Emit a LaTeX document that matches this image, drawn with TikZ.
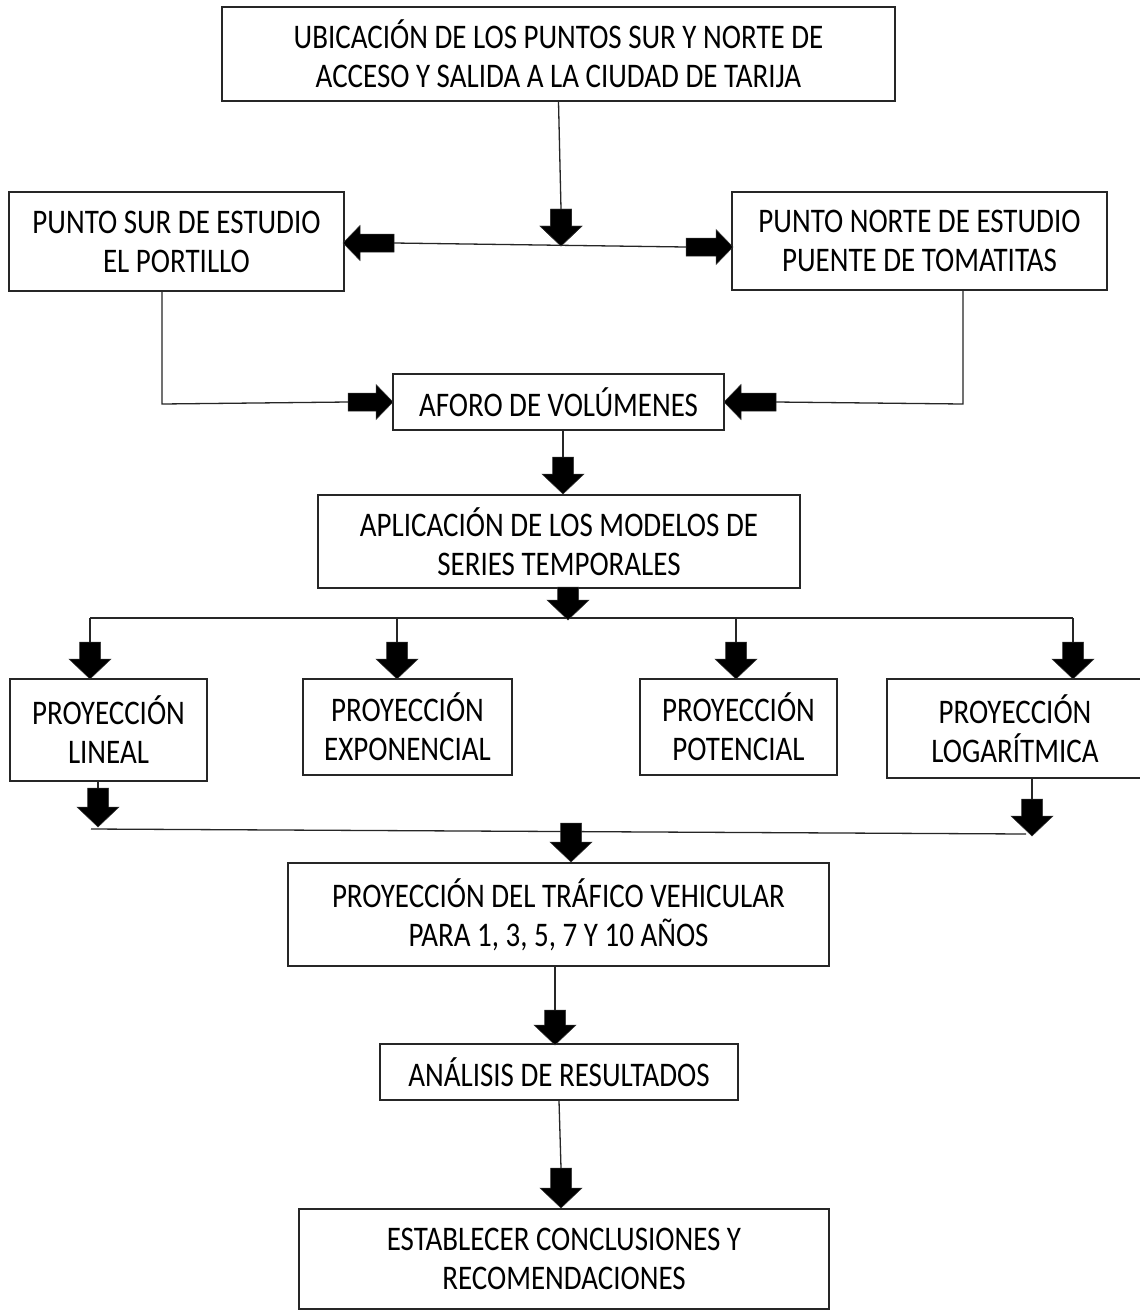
\documentclass[tikz,border=0pt]{standalone}
\usepackage{fontspec}
\setmainfont[FakeStretch=0.84]{Carlito}
% block arrows; each also names its tail as a coordinate
% down arrow: name, x, y of tail, y of tip
\newcommand{\darr}[4]{%
  \coordinate (#1) at (#2,#3);
  \filldraw[arrowfill] (#2,#4) -- ({#2-21},{#4-20}) -- ({#2-10.5},{#4-20}) -- ({#2-10.5},#3)
     -- ({#2+10.5},#3) -- ({#2+10.5},{#4-20}) -- ({#2+21},{#4-20}) -- cycle;}
% right arrow: name, y, x of tail, x of tip
\newcommand{\rarr}[4]{%
  \coordinate (#1) at (#3,#2);
  \filldraw[arrowfill] (#4,#2) -- ({#4-17},{#2-17.5}) -- ({#4-17},{#2-9}) -- (#3,{#2-9})
     -- (#3,{#2+9}) -- ({#4-17},{#2+9}) -- ({#4-17},{#2+17.5}) -- cycle;}
% left arrow: name, y, x of tail, x of tip
\newcommand{\larr}[4]{%
  \coordinate (#1) at (#3,#2);
  \filldraw[arrowfill] (#4,#2) -- ({#4+17},{#2-17.5}) -- ({#4+17},{#2-9}) -- (#3,{#2-9})
     -- (#3,{#2+9}) -- ({#4+17},{#2+9}) -- ({#4+17},{#2+17.5}) -- cycle;}
\begin{document}
\begin{tikzpicture}[x=1pt,y=-1pt,
  box/.style={draw=black!85, line width=1.3pt, align=center, inner sep=0pt,
    font=\fontsize{34.5}{39}\selectfont},
  conn/.style={draw=black!85, line width=1.3pt},
  arrowfill/.style={fill=black, draw=black!80, line width=0.5pt, line join=miter}]
\useasboundingbox (0,0) rectangle (1140,1310);
\fill[white] (0,0) rectangle (1140,1310);

% boxes
\node[box, minimum width=673pt, minimum height=94pt] (top) at (558.5,54)
  {UBICACIÓN DE LOS PUNTOS SUR Y NORTE DE\\ACCESO Y SALIDA A LA CIUDAD DE TARIJA};
\node[box, minimum width=335pt, minimum height=99pt] (sur) at (176.5,241.5)
  {PUNTO SUR DE ESTUDIO\\EL PORTILLO};
\node[box, minimum width=375pt, minimum height=98pt] (norte) at (919.5,241)
  {PUNTO NORTE DE ESTUDIO\\PUENTE DE TOMATITAS};
\node[box, minimum width=331pt, minimum height=56pt] (aforo) at (558.5,402)
  {AFORO DE VOLÚMENES};
\node[box, minimum width=482pt, minimum height=93pt] (aplic) at (559,541.5)
  {APLICACIÓN DE LOS MODELOS DE\\SERIES TEMPORALES};
\node[box, minimum width=197pt, minimum height=102pt] (lineal) at (108.5,730)
  {PROYECCIÓN\\LINEAL};
\node[box, minimum width=209pt, minimum height=96pt] (expo) at (407.5,727)
  {PROYECCIÓN\\EXPONENCIAL};
\node[box, minimum width=197pt, minimum height=96pt] (pot) at (738.5,727)
  {PROYECCIÓN\\POTENCIAL};
\node[box, minimum width=256pt, minimum height=99pt] (log) at (1015,728.5)
  {PROYECCIÓN\\LOGARÍTMICA};
\node[box, minimum width=541pt, minimum height=103pt] (trafico) at (558.5,914.5)
  {PROYECCIÓN DEL TRÁFICO VEHICULAR\\PARA 1, 3, 5, 7 Y 10 AÑOS};
\node[box, minimum width=358pt, minimum height=56pt] (analisis) at (559,1072)
  {ANÁLISIS DE RESULTADOS};
\node[box, minimum width=530pt, minimum height=100pt] (concl) at (564,1259)
  {ESTABLECER CONCLUSIONES Y\\RECOMENDACIONES};

% helper coordinates (line corners / ends)
\coordinate (s1) at (162,404);
\coordinate (n1) at (963,404);
\coordinate (br1) at (90,618);
\coordinate (br4) at (1073,618);
\coordinate (m1) at (91,829);
\coordinate (m2) at (1026,834);

% block arrows (tails become named coordinates)
\darr{a1}{561}{209}{246}
\larr{a2}{243}{394}{343}
\rarr{a3}{247}{686}{733}
\rarr{a4}{402}{348}{393}
\larr{a5}{402}{776}{724}
\darr{a6}{563}{457}{494}
\darr{b1}{90}{642}{679}
\darr{b2}{397}{642}{679}
\darr{b3}{736}{642}{679}
\darr{b4}{1073}{642}{679}
\darr{c1}{98}{788}{827}
\darr{c4}{1032}{799}{836}
\darr{d1}{555}{1010}{1045}
\darr{e1}{561}{1168}{1208}

% connectors
\draw[conn] (top.south) -- (a1);
\draw[conn] (a2) -- (a3);
\draw[conn] (s1 |- sur.south) -- (s1) -- (a4);
\draw[conn] (n1 |- norte.south) -- (n1) -- (a5);
\draw[conn] (a6 |- aforo.south) -- (a6);
\draw[conn] (br1) -- (br4);
\draw[conn] (br1) -- (b1);
\draw[conn] (b2 |- br1) -- (b2);
\draw[conn] (b3 |- br1) -- (b3);
\draw[conn] (br4) -- (b4);
\draw[conn] (c1 |- lineal.south) -- (c1);
\draw[conn] (c4 |- log.south) -- (c4);
\draw[conn] (m1) -- (m2);
\draw[conn] (d1 |- trafico.south) -- (d1);
\draw[conn] (analisis.south) -- (e1);

% arrows that sit on top of a connector line
\darr{a1}{561}{209}{246}
\darr{a7}{568}{587}{620}
\darr{c0}{571}{823}{862}
\end{tikzpicture}
\end{document}
